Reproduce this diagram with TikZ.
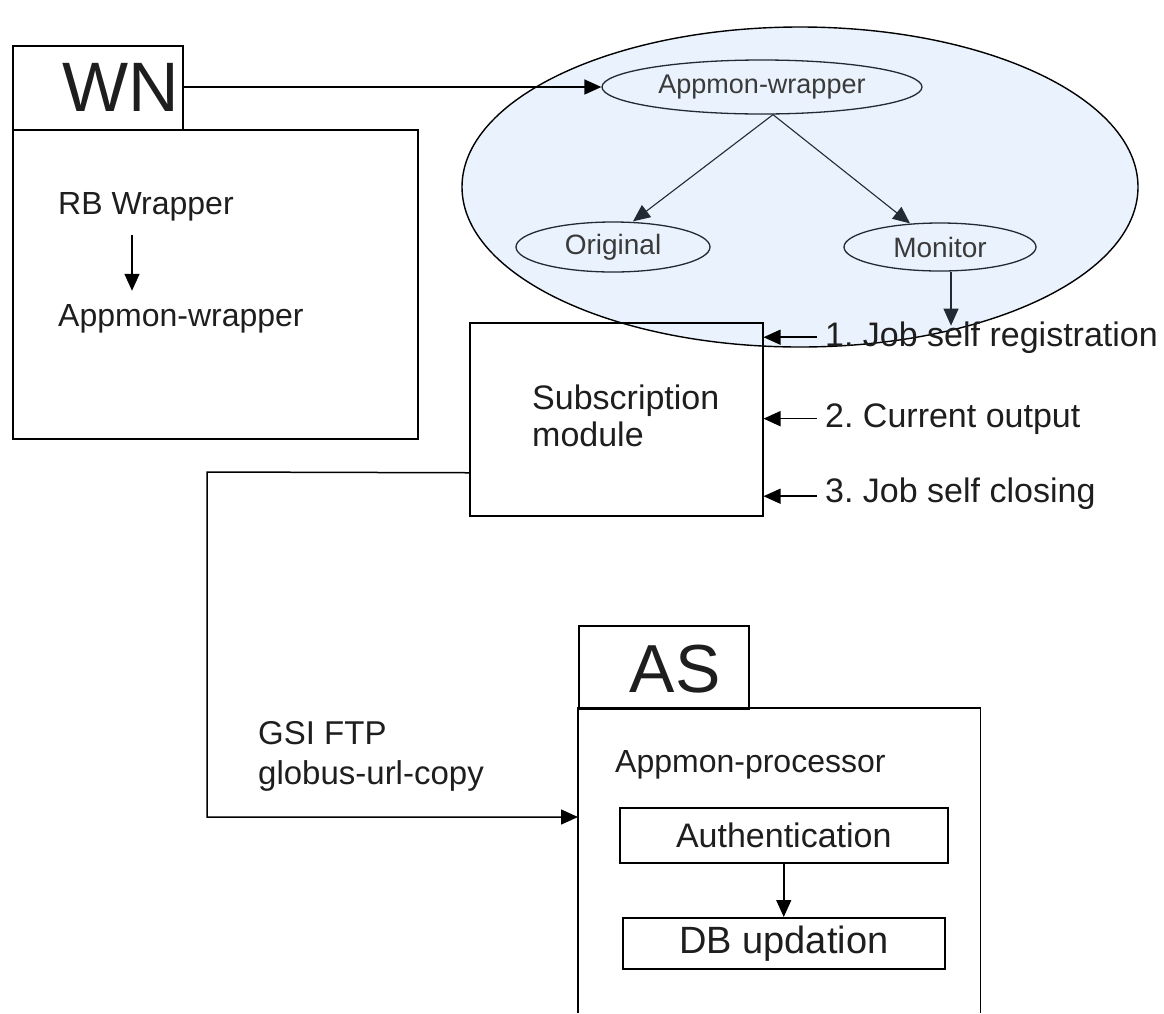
\documentclass[tikz,border=0pt]{standalone}
\usepackage{fontspec}
\setmainfont{Liberation Sans}
\usetikzlibrary{shapes.geometric,arrows.meta,calc}
\definecolor{cloudfill}{HTML}{EAF2FD}
\definecolor{ink}{HTML}{222A33}
\definecolor{txt}{HTML}{1E1E1E}
\definecolor{soft}{HTML}{3A3A3A}
\frenchspacing
\begin{document}
\begin{tikzpicture}[x=1pt,y=-1pt,
  frame/.style={draw=black, line width=1.5pt, rectangle, inner sep=0pt, anchor=north west},
  txtlbl/.style={text=txt, inner sep=0pt, font=\fontsize{34}{37}\selectfont},
  arr/.style={draw=black, line width=1.5pt, -{Triangle[length=17pt,width=15pt]}},
  iarr/.style={draw=ink, line width=1.1pt, -{Triangle[length=17pt,width=15pt]}},
  inell/.style={ellipse, draw=ink, line width=1.3pt, inner sep=0pt, text=soft}]
\useasboundingbox (0,0) rectangle (1164,1013);

% cloud
\node[ellipse, draw=black, line width=1.4pt, fill=cloudfill, minimum width=676pt, minimum height=320pt] (cloud) at (800,187) {};

% WN
\node[frame, minimum width=170pt, minimum height=84pt] (wntab) at (12,45) {};
\node[frame, minimum width=405pt, minimum height=309pt] (wnbody) at (12,129) {};
\node[txtlbl, font=\fontsize{70}{70}\selectfont, anchor=base] (wn) at (121,111) {WN};
\node[txtlbl, font=\fontsize{32}{36}\selectfont, anchor=base west] (rbw) at (58,214) {RB Wrapper};
\node[txtlbl, font=\fontsize{32}{36}\selectfont, anchor=base west] (amw) at (58,326) {Appmon-wrapper};
\coordinate (wnax) at (132,0);
\draw[arr] ($(rbw.south -| wnax)+(0,14)$) -- ($(amw.north -| wnax)+(0,-13)$);

% inner ellipses
\node[inell, minimum width=320pt, minimum height=54pt, font=\fontsize{27}{27}\selectfont] (aw) at (762,87) {Appmon-wrapper};
\node[inell, minimum width=194pt, minimum height=50pt, font=\fontsize{28}{28}\selectfont] (orig) at (613,247) {Original};
\node[inell, minimum width=192pt, minimum height=48pt, font=\fontsize{28}{28}\selectfont] (mon) at (940,247) {Monitor};
\draw[arr] (wntab.east |- aw.west) -- (aw.west);
\draw[iarr] ($(aw.south)+(11,0)$) -- ($(orig.north)+(20,0)$);
\draw[iarr] ($(aw.south)+(11,0)$) -- ($(mon.north)+(-30,1)$);
\draw[iarr] ($(mon.south)+(11,0)$) -- ($(mon.south)+(11,54)$);

% subscription module
\node[frame, minimum width=293pt, minimum height=193pt] (sub) at (469,322) {};
\node[txtlbl, align=left, anchor=north west] (subtxt) at (532,385) {Subscription\\module};
\node[txtlbl, anchor=base west] (l1) at (825,346) {1. Job self registration};
\node[txtlbl, anchor=base west] (l2) at (825,427) {2. Current output};
\node[txtlbl, anchor=base west] (l3) at (825,502) {3. Job self closing};
\draw[arr] ($(l1.west)+(-8,0)$) -- (l1.west -| sub.east);
\draw[arr] ($(l2.west)+(-8,0)$) -- (l2.west -| sub.east);
\draw[arr] ($(l3.west)+(-8,3)$) -- ($(l3.west -| sub.east)+(0,3)$);

% AS
\node[frame, minimum width=170pt, minimum height=83pt] (astab) at (578,625) {};
\node[txtlbl, font=\fontsize{68}{68}\selectfont, anchor=base] (as) at (675,692) {AS};
\node[anchor=north west, minimum width=402pt, minimum height=305pt, inner sep=0pt] (asbody) at (578,708) {};
\draw[line width=1.5pt] (asbody.south west) -- (asbody.north west) -- (asbody.north east) -- (asbody.south east);
\node[txtlbl, font=\fontsize{32}{32}\selectfont, anchor=base west] (proc) at (615,772) {Appmon-processor};
\node[frame, minimum width=328pt, minimum height=55pt, font=\fontsize{34}{34}\selectfont, text=txt] (auth) at (619,807) {Authentication};
\node[frame, minimum width=322pt, minimum height=51pt, font=\fontsize{38}{38}\selectfont, text=txt] (db) at (622,917) {DB updation};
\draw[arr] (auth.south) -- (db.north);

% GSI FTP link
\node[txtlbl, align=left, anchor=north west, font=\fontsize{33}{40}\selectfont] (gsi) at (258,721) {GSI FTP\\globus-url-copy};
\coordinate (bend) at (207,472);
\coordinate (asin) at ($(asbody.north west)+(0,109)$);
\draw[arr] ($(sub.west)+(0,53.5)$) -- (bend) |- (asin);
\end{tikzpicture}
\end{document}
